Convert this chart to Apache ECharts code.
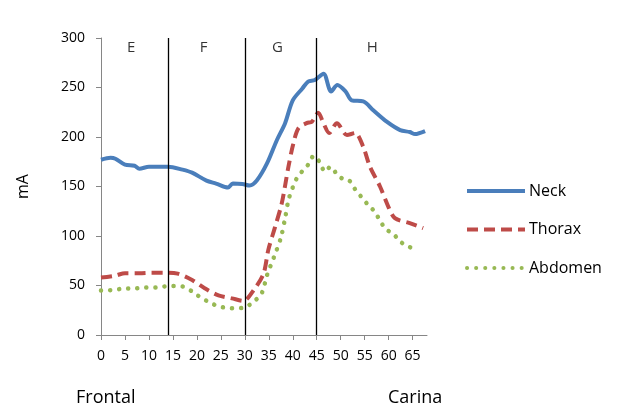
<!DOCTYPE html>
<html><head><meta charset="utf-8">
<script src="https://cdn.jsdelivr.net/npm/echarts@6/dist/echarts.min.js"></script>
<style>html,body{margin:0;padding:0;background:#fff}#c{width:624px;height:413px}</style>
</head><body><div id="c"></div>
<script>
// Data
const neckX = [0, 2, 3, 5, 7, 8, 10, 12, 14, 17, 19, 22, 24, 26.5, 27.5, 29.5, 31, 32.5, 34.6, 36.7, 38.4, 40, 42, 43.2, 44.6, 46.4, 48, 49.3, 51, 52.3, 54.7, 56.8, 59.6, 62.4, 64.4, 65.5, 67.6];
const neckY = [177, 179, 178, 172, 171, 168, 170, 170, 170, 167, 164, 156, 153, 149, 153, 152.5, 151, 156, 173, 197, 214, 237, 249, 256, 257.6, 264, 246, 252.5, 246, 237, 236, 227, 215.5, 207, 205, 203, 206];
const thoraxX = [0, 3, 5, 8, 10.6, 13.4, 16, 19, 21.7, 24.5, 27.3, 29.7, 31.8, 33.9, 34.9, 36.3, 37.7, 39.1, 40.1, 41.2, 42.9, 44, 45.3, 46.4, 47.6, 49.2, 51.3, 53, 54.7, 56.1, 58.2, 59.9, 61.3, 64.4, 67.2];
const thoraxY = [58, 60, 62.5, 62.5, 63, 63, 62, 55.5, 47, 40, 37, 34.5, 45, 62, 86, 109, 133, 170, 193, 209, 214, 215.5, 224.5, 214, 204, 214, 202, 204, 190, 170, 150, 130, 118, 113, 108];
const abdomenX = [0, 2.6, 5, 7, 9, 11.3, 13, 15, 17, 19, 20.3, 22.4, 24.2, 26, 28, 29.7, 31.4, 33.5, 34.6, 36.1, 37.5, 38.4, 39.2, 40.7, 41.9, 43.2, 44.4, 45.7, 46.7, 47.9, 49.2, 50.8, 51.9, 53.1, 54.4, 55.8, 57.1, 58.2, 59.4, 61, 62.5, 64.3, 66.2];
const abdomenY = [45, 45.5, 47, 47, 48, 48, 49, 49.5, 49, 44, 39.5, 33.5, 29.5, 27.5, 27, 27.5, 32, 42, 60, 79, 98, 118, 138, 157, 165, 172, 181, 174, 165, 170, 162.5, 156.5, 155.5, 146.5, 139, 131, 124.5, 115.5, 107, 102, 94, 89, 85];
const xTicks = [0, 5, 10, 15, 20, 25, 30, 35, 40, 45, 50, 55, 60, 65];
const dividers = [14, 30, 45];
const regionNames = ['E', 'F', 'G', 'H'];
const regionX = [6.3, 21.4, 36.8, 56.6];
const regionY = 290;

const zip = (xs, ys) => xs.map((x, i) => [x, ys[i]]);
const font = 'Open Sans, Noto Sans, sans-serif';
const chart = echarts.init(document.getElementById('c'), null, {renderer: 'canvas'});
chart.setOption({
  animation: false,
  backgroundColor: '#fff',
  grid: {left: 101, right: 197, top: 38, bottom: 78},
  xAxis: {
    type: 'value', min: 0, max: 68,
    splitLine: {show: false},
    axisLine: {lineStyle: {color: '#868686', width: 1}},
    axisTick: {customValues: xTicks, length: 5, lineStyle: {color: '#868686'}},
    axisLabel: {customValues: xTicks, color: '#000', fontSize: 14, fontFamily: font, margin: 14}
  },
  yAxis: {
    type: 'value', min: 0, max: 300, interval: 50,
    name: 'mA', nameLocation: 'middle', nameGap: 70,
    nameTextStyle: {fontSize: 16, fontFamily: font, color: '#000'},
    splitLine: {show: false},
    axisLine: {show: true, lineStyle: {color: '#868686', width: 1}},
    axisTick: {show: true, length: 5, lineStyle: {color: '#868686'}},
    axisLabel: {color: '#000', fontSize: 14, fontFamily: font, margin: 16}
  },
  legend: {
    orient: 'vertical', left: 460, top: 178, itemGap: 22.5, itemWidth: 58, itemHeight: 14,
    itemStyle: {opacity: 0},
    lineStyle: {width: 4},
    textStyle: {fontSize: 16, fontFamily: font, color: '#000', padding: [0, 0, 0, -1]},
    data: ['Neck', 'Thorax', 'Abdomen']
  },
  graphic: [
    {type: 'text', left: 76, top: 389, style: {text: 'Frontal', fontSize: 18, fontFamily: font, fill: '#000'}},
    {type: 'text', left: 388, top: 389, style: {text: 'Carina', fontSize: 18, fontFamily: font, fill: '#000'}}
  ],
  series: [
    {
      name: 'Neck', type: 'line', symbol: 'none', smooth: 0.3,
      data: zip(neckX, neckY),
      lineStyle: {color: '#4a7ebb', width: 4},
      itemStyle: {color: '#4a7ebb'},
      z: 4,
      markLine: {
        silent: true, symbol: 'none', label: {show: false},
        lineStyle: {color: '#000', width: 1.3, type: 'solid'},
        data: dividers.map(v => ({xAxis: v}))
      }
    },
    {
      name: 'Thorax', type: 'line', symbol: 'none', smooth: 0.3,
      data: zip(thoraxX, thoraxY),
      lineStyle: {color: '#be4b48', width: 4, type: [11, 6]},
      itemStyle: {color: '#be4b48'},
      z: 3
    },
    {
      name: 'Abdomen', type: 'line', symbol: 'none', smooth: 0.3,
      data: zip(abdomenX, abdomenY),
      lineStyle: {color: '#98b954', width: 4.5, type: [0.1, 9], cap: 'round'},
      itemStyle: {color: '#98b954'},
      z: 2
    },
    {
      name: 'regions', type: 'scatter', symbolSize: 0, silent: true,
      data: regionNames.map((n, i) => ({name: n, value: [regionX[i], regionY]})),
      label: {show: true, position: 'inside', formatter: p => p.name, fontSize: 15, fontFamily: font, color: '#000'}
    }
  ]
});
</script></body></html>
